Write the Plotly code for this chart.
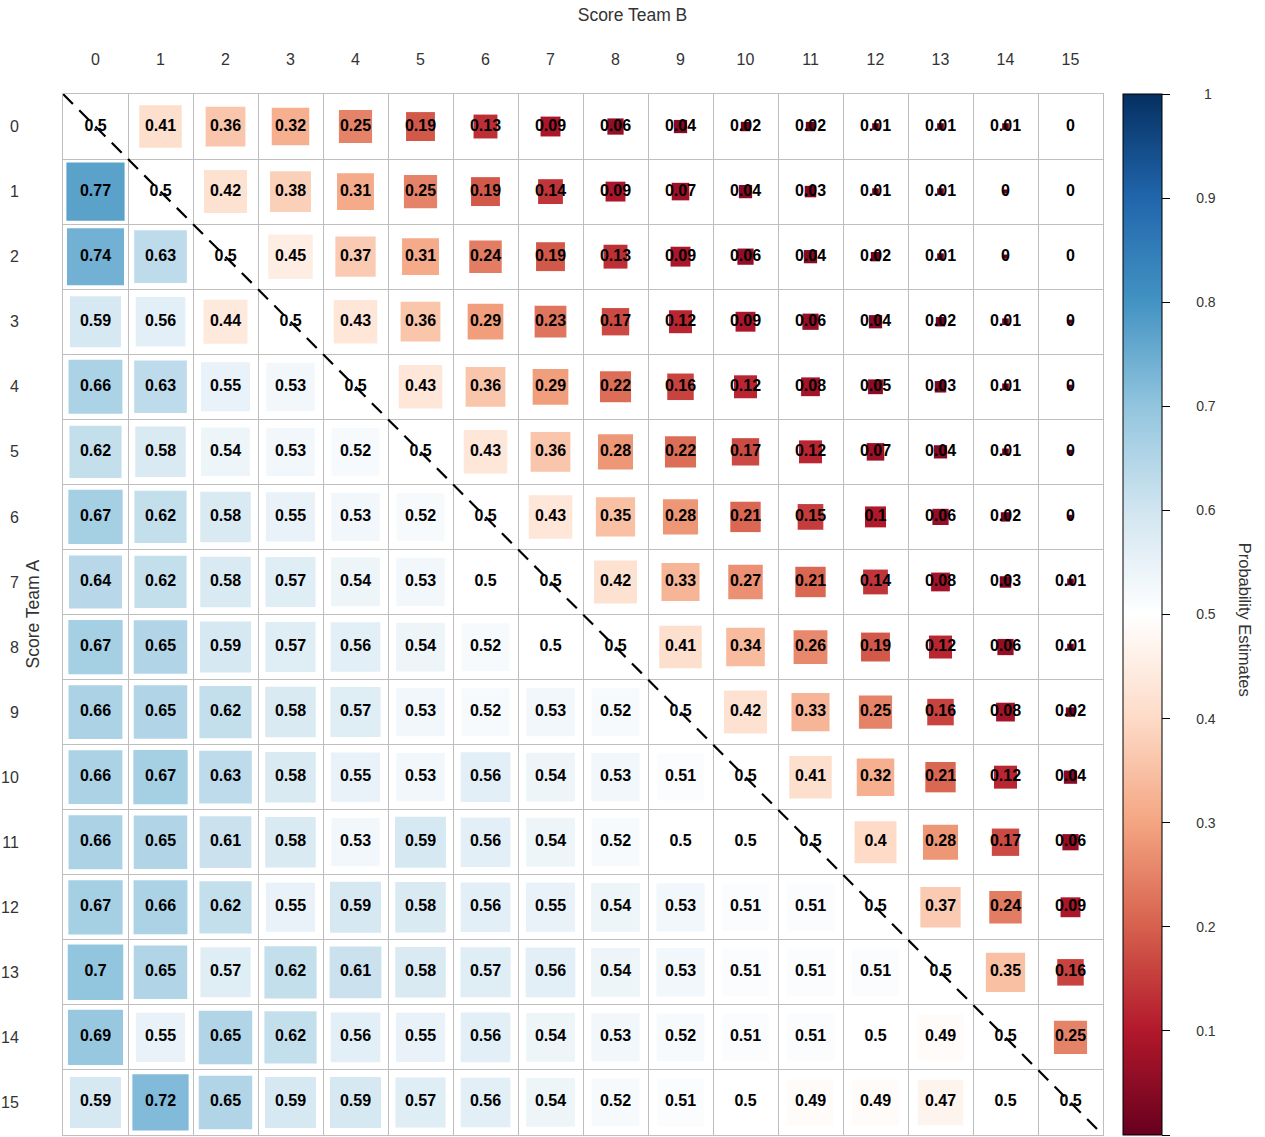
import plotly.graph_objects as go

# Score of each team (matrix rows = Team A, columns = Team B)
team_a_scores = list(range(16))
team_b_scores = list(range(16))

# Probability estimates, one list per Team A score
team_a_0 = [0.5, 0.41, 0.36, 0.32, 0.25, 0.19, 0.13, 0.09, 0.06, 0.04, 0.02, 0.02, 0.01, 0.01, 0.01, 0]
team_a_1 = [0.77, 0.5, 0.42, 0.38, 0.31, 0.25, 0.19, 0.14, 0.09, 0.07, 0.04, 0.03, 0.01, 0.01, 0.004, 0]
team_a_2 = [0.74, 0.63, 0.5, 0.45, 0.37, 0.31, 0.24, 0.19, 0.13, 0.09, 0.06, 0.04, 0.02, 0.01, 0.004, 0]
team_a_3 = [0.59, 0.56, 0.44, 0.5, 0.43, 0.36, 0.29, 0.23, 0.17, 0.12, 0.09, 0.06, 0.04, 0.02, 0.01, 0.004]
team_a_4 = [0.66, 0.63, 0.55, 0.53, 0.5, 0.43, 0.36, 0.29, 0.22, 0.16, 0.12, 0.08, 0.05, 0.03, 0.01, 0.004]
team_a_5 = [0.62, 0.58, 0.54, 0.53, 0.52, 0.5, 0.43, 0.36, 0.28, 0.22, 0.17, 0.12, 0.07, 0.04, 0.01, 0.004]
team_a_6 = [0.67, 0.62, 0.58, 0.55, 0.53, 0.52, 0.5, 0.43, 0.35, 0.28, 0.21, 0.15, 0.1, 0.06, 0.02, 0.004]
team_a_7 = [0.64, 0.62, 0.58, 0.57, 0.54, 0.53, 0.5, 0.5, 0.42, 0.33, 0.27, 0.21, 0.14, 0.08, 0.03, 0.01]
team_a_8 = [0.67, 0.65, 0.59, 0.57, 0.56, 0.54, 0.52, 0.5, 0.5, 0.41, 0.34, 0.26, 0.19, 0.12, 0.06, 0.01]
team_a_9 = [0.66, 0.65, 0.62, 0.58, 0.57, 0.53, 0.52, 0.53, 0.52, 0.5, 0.42, 0.33, 0.25, 0.16, 0.08, 0.02]
team_a_10 = [0.66, 0.67, 0.63, 0.58, 0.55, 0.53, 0.56, 0.54, 0.53, 0.51, 0.5, 0.41, 0.32, 0.21, 0.12, 0.04]
team_a_11 = [0.66, 0.65, 0.61, 0.58, 0.53, 0.59, 0.56, 0.54, 0.52, 0.5, 0.5, 0.5, 0.4, 0.28, 0.17, 0.06]
team_a_12 = [0.67, 0.66, 0.62, 0.55, 0.59, 0.58, 0.56, 0.55, 0.54, 0.53, 0.51, 0.51, 0.5, 0.37, 0.24, 0.09]
team_a_13 = [0.7, 0.65, 0.57, 0.62, 0.61, 0.58, 0.57, 0.56, 0.54, 0.53, 0.51, 0.51, 0.51, 0.5, 0.35, 0.16]
team_a_14 = [0.69, 0.55, 0.65, 0.62, 0.56, 0.55, 0.56, 0.54, 0.53, 0.52, 0.51, 0.51, 0.5, 0.49, 0.5, 0.25]
team_a_15 = [0.59, 0.72, 0.65, 0.59, 0.59, 0.57, 0.56, 0.54, 0.52, 0.51, 0.5, 0.49, 0.49, 0.47, 0.5, 0.5]

prob_rows = [team_a_0, team_a_1, team_a_2, team_a_3, team_a_4, team_a_5, team_a_6, team_a_7,
             team_a_8, team_a_9, team_a_10, team_a_11, team_a_12, team_a_13, team_a_14, team_a_15]

colorbar_ticks = [0, 0.1, 0.2, 0.3, 0.4, 0.5, 0.6, 0.7, 0.8, 0.9, 1]

# Red-white-blue diverging palette
palette = ["#67001F", "#B2182B", "#D6604D", "#F4A582", "#FDDBC7", "#FFFFFF",
           "#D1E5F0", "#92C5DE", "#4393C3", "#2166AC", "#053061"]
colorscale = [[i / (len(palette) - 1), c] for i, c in enumerate(palette)]

W, H = 1265, 1137
M_L, M_R, M_T, M_B = 63, 162, 94, 2
n = len(team_b_scores)
cell_px = (W - M_L - M_R) / n
# side of a square for probability 1 (area grows linearly with probability)
full_side = cell_px * 1.02

xs, ys, vals, labels = [], [], [], []
for i, row in zip(team_a_scores, prob_rows):
    for j, v in zip(team_b_scores, row):
        xs.append(j)
        ys.append(i)
        vals.append(v)
        labels.append(f"{round(v, 2):g}")


def bar_label(t):
    # pad colour-bar labels so they sit centred in their column
    s = f"{t:g}"
    pad = 8 if len(s) == 1 else 6
    return "\u00a0" * pad + s


fig = go.Figure()

# Squares: area proportional to the probability, colour from the palette
fig.add_trace(go.Scatter(
    x=xs, y=ys, mode="markers",
    marker=dict(
        symbol="square", size=vals, sizemode="area", sizeref=2 / full_side ** 2, sizemin=0,
        color=vals, colorscale=colorscale, cmin=0, cmax=1, opacity=1,
        line=dict(width=0),
        showscale=True,
        colorbar=dict(
            x=(1123 - M_L) / (W - M_L - M_R), xanchor="left", xpad=0,
            y=0.5, yanchor="middle", ypad=0, len=1, lenmode="fraction",
            thickness=39, outlinecolor="black", outlinewidth=1,
            ticks="outside", ticklen=8, tickcolor="black", tickwidth=1,
            tickvals=colorbar_ticks, ticktext=[bar_label(t) for t in colorbar_ticks],
            tickfont=dict(family="Liberation Sans", size=14, color="#333"),
        ),
    ),
    hoverinfo="skip", showlegend=False,
))

# Dashed diagonal of equal scores
fig.add_trace(go.Scatter(
    x=[-0.5, n - 0.5], y=[-0.5, n - 0.5], mode="lines",
    line=dict(color="black", width=2.2, dash="14px,9px"),
    hoverinfo="skip", showlegend=False,
))

# Value labels
fig.add_trace(go.Scatter(
    x=xs, y=ys, mode="text", text=labels,
    textfont=dict(family="Liberation Sans", size=16, color="black", weight="bold"),
    hoverinfo="skip", showlegend=False,
))

grid = dict(tick0=0.5, dtick=1, showgrid=True, gridcolor="#BEBEBE", gridwidth=1, ticks="")
axis_font = dict(family="Liberation Sans", size=16, color="#333")

fig.update_xaxes(
    range=[-0.5, n - 0.5], side="top", tickmode="array",
    tickvals=team_b_scores, ticktext=[str(s) for s in team_b_scores],
    showgrid=False, zeroline=False, minor=grid,
    showline=True, mirror=True, linecolor="#BEBEBE", linewidth=1,
    tickfont=axis_font, ticklabelstandoff=22,
)
fig.update_yaxes(
    range=[n - 0.5, -0.5], tickmode="array",
    tickvals=team_a_scores, ticktext=[str(s) for s in team_a_scores],
    showgrid=False, zeroline=False, minor=grid,
    showline=True, mirror=True, linecolor="#BEBEBE", linewidth=1,
    tickfont=axis_font, ticklabelstandoff=40,
)

fig.update_layout(
    width=W, height=H,
    margin=dict(l=M_L, r=M_R, t=M_T, b=M_B),
    paper_bgcolor="white", plot_bgcolor="white",
    title=dict(text="Score Team B", x=0.5, xref="container", xanchor="center",
               y=1 - 15 / H, yref="container", yanchor="middle",
               font=dict(family="Liberation Sans", size=17.5, color="#333")),
    annotations=[
        dict(text="Score Team A", xref="paper", yref="paper",
             x=(32 - M_L) / (W - M_L - M_R), y=0.5, xanchor="center", yanchor="middle",
             textangle=-90, showarrow=False,
             font=dict(family="Liberation Sans", size=17.5, color="#333")),
        dict(text="Probability Estimates", xref="paper", yref="paper",
             x=(1245 - M_L) / (W - M_L - M_R), y=0.495, xanchor="center", yanchor="middle",
             textangle=90, showarrow=False,
             font=dict(family="Liberation Sans", size=16.5, color="#333")),
    ],
)

fig.write_html("out.html")
